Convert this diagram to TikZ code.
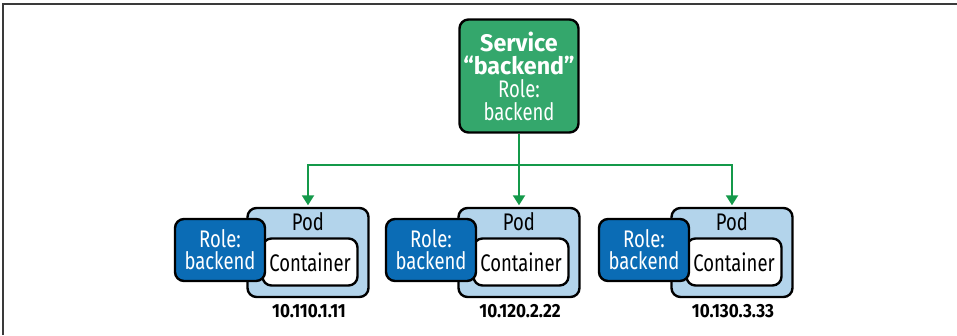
\documentclass[tikz,border=0pt]{standalone}
\usepackage{fontspec}
\setmainfont{Fira Sans}[FakeStretch=0.77, BoldFeatures={FakeStretch=0.97}]
\newfontfamily\ipfont{Fira Sans}[FakeStretch=0.9, BoldFeatures={FakeStretch=0.9}]
\usetikzlibrary{arrows.meta}
\definecolor{svcgreen}{HTML}{34A76C}
\definecolor{arrgreen}{HTML}{14994A}
\definecolor{roleblue}{HTML}{0B6CB5}
\definecolor{podblue}{HTML}{B3D4EB}
\definecolor{framegray}{HTML}{3A3A3A}
\tikzset{
  box/.style={draw=black, line width=2.4pt, rounded corners=9pt, inner sep=0pt, align=center},
  svcbox/.style={box, fill=svcgreen, text=white, minimum width=119, minimum height=113,
    font=\fontsize{24}{23}\selectfont},
  podbox/.style={box, fill=podblue, minimum width=121, minimum height=89},
  contbox/.style={box, fill=white, minimum width=95, minimum height=47,
    font=\fontsize{24}{23}\selectfont},
  rolebox/.style={box, fill=roleblue, text=white, minimum width=90, minimum height=62,
    font=\fontsize{24}{22}\selectfont},
  podlabel/.style={inner sep=0pt, font=\fontsize{24}{23}\selectfont},
  iplabel/.style={inner sep=0pt, font=\ipfont\bfseries\fontsize{19}{20}\selectfont},
  conn/.style={draw=arrgreen, line width=2pt},
  arrow/.style={conn, -{Triangle[width=12pt,length=10pt]}, shorten >=1.5pt},
}
\begin{document}
\begin{tikzpicture}[x=1pt,y=-1pt]
\useasboundingbox (0,0) rectangle (957,335);
\draw[framegray, line width=2pt] (3,335) -- (3,4) -- (957,4);

\node[svcbox] (svc) at (519,76) {\textbf{Service}\\\textbf{“backend”}\\Role:\\backend};

\foreach \i/\dx/\ip in {1/0/10.110.1.11, 2/211/10.120.2.22, 3/424/10.130.3.33} {
  \node[podbox] (pod\i) at (308+\dx,252.5) {};
  \node[podlabel] (podl\i) at (308+\dx,221.5) {Pod};
  \node[contbox] (cont\i) at (310+\dx,262) {Container};
  \node[rolebox] (role\i) at (220+\dx,250) {Role:\\backend};
  \node[iplabel] (ip\i) at (309+\dx,311.5) {\ip};
}

\coordinate (bus) at (519,165);
\draw[conn] (svc.south) -- (bus);
\draw[arrow] (bus) -| (pod1.north);
\draw[arrow] (bus) -- (pod2.north);
\draw[arrow] (bus) -| (pod3.north);
\end{tikzpicture}
\end{document}
